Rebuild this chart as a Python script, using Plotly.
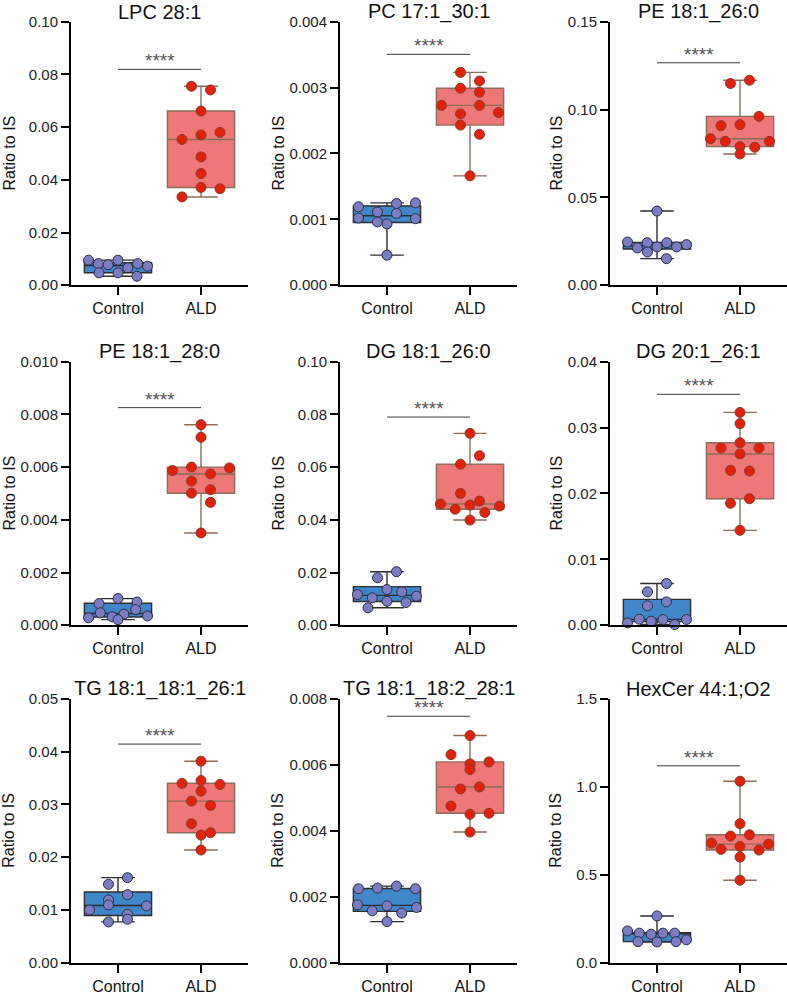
import numpy as np
import plotly.graph_objects as go

# ---------------- data ----------------
categories = ["Control", "ALD"]
titles = ["LPC 28:1", "PC 17:1_30:1", "PE 18:1_26:0",
          "PE 18:1_28:0", "DG 18:1_26:0", "DG 20:1_26:1",
          "TG 18:1_18:1_26:1", "TG 18:1_18:2_28:1", "HexCer 44:1;O2"]
y_title = "Ratio to IS"
sig_label = "****"

lpc_control = [0.0095, 0.0082, 0.0078, 0.0095, 0.0066, 0.0082, 0.0072, 0.0047, 0.0047, 0.0034]
lpc_ald = [0.0755, 0.0741, 0.0661, 0.0553, 0.0570, 0.0580, 0.0487, 0.0424, 0.0335, 0.0371, 0.0366]

pc_control = [0.00119, 0.00111, 0.00124, 0.00125, 0.00102, 0.00096, 0.00109, 0.00101, 0.00093, 0.000456]
pc_ald = [0.00323, 0.0031, 0.00299, 0.00293, 0.00273, 0.0026, 0.00273, 0.00262, 0.00243, 0.00229, 0.00166]

pe26_control = [0.0422, 0.0246, 0.0212, 0.0242, 0.0218, 0.0242, 0.0218, 0.0231, 0.0189, 0.0151]
pe26_ald = [0.1148, 0.1167, 0.0908, 0.0914, 0.0961, 0.0834, 0.0819, 0.0789, 0.0785, 0.0819, 0.0747]

pe28_control = [0.00082, 0.00101, 0.00088, 0.00028, 0.00047, 0.00032, 0.00042, 0.00059, 0.00035, 0.00021]
pe28_ald = [0.00761, 0.00713, 0.00587, 0.006, 0.00574, 0.00597, 0.00547, 0.00514, 0.00501, 0.00466, 0.0035]

dg18_control = [0.018, 0.0203, 0.01165, 0.0104, 0.01354, 0.01266, 0.011, 0.0066, 0.0091, 0.0086]
dg18_ald = [0.0728, 0.0611, 0.0643, 0.05, 0.0471, 0.046, 0.044, 0.0456, 0.0428, 0.0452, 0.0399]

dg20_control = [0.00506, 0.00633, 0.00294, 0.00354, 0.00035, 0.00091, 0.00061, 0.00086, 0.0001, 0.00086]
dg20_ald = [0.0323, 0.0306, 0.0269, 0.0277, 0.0269, 0.026, 0.0235, 0.0234, 0.0185, 0.0192, 0.0144]

tg26_control = [0.01484, 0.0161, 0.01187, 0.01288, 0.00997, 0.01092, 0.00915, 0.01073, 0.0077, 0.00821]
tg26_ald = [0.0382, 0.034, 0.03453, 0.03378, 0.03251, 0.03062, 0.0298, 0.02633, 0.02462, 0.02418, 0.02134]

tg28_control = [0.00224, 0.00226, 0.00232, 0.00224, 0.00175, 0.00157, 0.00172, 0.0015, 0.00167, 0.00124]
tg28_ald = [0.00689, 0.00631, 0.00603, 0.00609, 0.00586, 0.00527, 0.00533, 0.00475, 0.0045, 0.00453, 0.00396]

hex_control = [0.265, 0.18, 0.167, 0.161, 0.167, 0.167, 0.129, 0.119, 0.117, 0.119]
hex_ald = [1.032, 0.79, 0.68, 0.72, 0.727, 0.674, 0.644, 0.66, 0.64, 0.6, 0.468]

# axis scales (max, tick step, tick format)
y_max = [0.10, 0.004, 0.15, 0.010, 0.10, 0.04, 0.05, 0.008, 1.5]
y_step = [0.02, 0.001, 0.05, 0.002, 0.02, 0.01, 0.01, 0.002, 0.5]
y_fmt = [".2f", ".3f", ".2f", ".3f", ".2f", ".2f", ".2f", ".3f", ".1f"]

controls = [lpc_control, pc_control, pe26_control, pe28_control, dg18_control,
            dg20_control, tg26_control, tg28_control, hex_control]
alds = [lpc_ald, pc_ald, pe26_ald, pe28_ald, dg18_ald, dg20_ald, tg26_ald, tg28_ald, hex_ald]

# ---------------- layout constants ----------------
W, H = 787, 998
col_left = [71, 340, 610]
plot_w = 177
row_top = [21.7, 361.7, 699]
plot_h = 263.5
ytitle_off = [-62, -62, -54]
x_range = [-0.566, 1.566]
px_per_unit = plot_w / (x_range[1] - x_range[0])

FONT = "Liberation Sans, Arial, Helvetica, sans-serif"

ctrl_style = dict(box_fill="#3f87c9", box_line="#2e2e2e",
                  pt_fill="#7b7cc2", pt_line="#2c2c44")
ald_style = dict(box_fill="#ee7777", box_line="#8c6d5c",
                 pt_fill="#e2210b", pt_line="#8a3b2a")


def box_stats(vals):
    a = np.asarray(vals, dtype=float)
    q1, med, q3 = np.percentile(a, [25, 50, 75], method="weibull")
    return q1, med, q3, a.min(), a.max()


def swarm_offsets(vals, ymax, row_thresh=9.5, max_step=19.0, max_span=59.0):
    v = np.asarray(vals, dtype=float)
    order = sorted(range(len(v)), key=lambda i: -v[i])
    rows, cur, start = [], [], None
    for i in order:
        ypx = v[i] / ymax * plot_h
        if start is None or start - ypx > row_thresh:
            if cur:
                rows.append(cur)
            cur, start = [i], ypx
        else:
            cur.append(i)
    if cur:
        rows.append(cur)
    off = np.zeros(len(v))
    for r in rows:
        r = sorted(r)
        n = len(r)
        if n > 1:
            step = min(max_step, max_span / (n - 1))
            for k, i in enumerate(r):
                off[i] = (k - (n - 1) / 2) * step / px_per_unit
    return off


fig = go.Figure()
annotations = []
shapes = []
layout_axes = {}

for p in range(9):
    r, c = divmod(p, 3)
    ax = "" if p == 0 else str(p + 1)
    xref, yref = "x" + ax, "y" + ax
    x0 = col_left[c] / W
    x1 = min(1.0, (col_left[c] + plot_w) / W)
    xc = (col_left[c] + plot_w / 2) / W
    ytop = 1 - row_top[r] / H
    ybot = 1 - (row_top[r] + plot_h) / H

    groups = [controls[p], alds[p]]
    styles = [ctrl_style, ald_style]
    for gi, (vals, st) in enumerate(zip(groups, styles)):
        q1, med, q3, lo, hi = box_stats(vals)
        fig.add_trace(go.Box(
            x=[gi], q1=[q1], median=[med], q3=[q3], lowerfence=[lo], upperfence=[hi],
            width=0.81, whiskerwidth=0.5, fillcolor=st["box_fill"],
            line=dict(color=st["box_line"], width=1.4), boxpoints=False,
            hoverinfo="skip", showlegend=False, xaxis=xref, yaxis=yref))
    for gi, (vals, st) in enumerate(zip(groups, styles)):
        off = swarm_offsets(vals, y_max[p])
        fig.add_trace(go.Scatter(
            x=gi + off, y=vals, mode="markers", cliponaxis=False,
            marker=dict(size=10, color=st["pt_fill"], line=dict(color=st["pt_line"], width=1)),
            showlegend=False, hoverinfo="skip", xaxis=xref, yaxis=yref))

    # significance bar
    bar_y = 1.085 * max(alds[p])
    shapes.append(dict(type="line", xref=xref, yref=yref, x0=0, x1=1, y0=bar_y, y1=bar_y,
                       line=dict(color="#3a3a3a", width=1)))
    annotations.append(dict(x=0.5, y=bar_y, xref=xref, yref=yref, text=sig_label,
                            showarrow=False, xanchor="center", yanchor="bottom", yshift=-4,
                            font=dict(family=FONT, size=19, color="#555555")))
    # panel title
    annotations.append(dict(x=xc, y=ytop, xref="paper", yref="paper",
                            text=titles[p], showarrow=False, xanchor="center",
                            yanchor="bottom", yshift=-3,
                            font=dict(family=FONT, size=20, color="#111111")))
    # y axis title
    annotations.append(dict(x=x0, y=(ytop + ybot) / 2, xref="paper", yref="paper",
                            text=y_title, showarrow=False, textangle=-90,
                            xanchor="center", yanchor="middle", xshift=ytitle_off[c],
                            font=dict(family=FONT, size=16, color="#111111")))

    layout_axes["xaxis" + ax] = dict(
        domain=[x0, x1], range=x_range, anchor=yref, tickvals=[0, 1], ticktext=categories,
        showline=True, linecolor="black", linewidth=2, ticks="outside", ticklen=8,
        tickwidth=2, tickcolor="black", showgrid=False, zeroline=False, fixedrange=True,
        automargin=False, tickfont=dict(family=FONT, size=16, color="#111111"))
    layout_axes["yaxis" + ax] = dict(
        domain=[ybot, ytop], range=[0, y_max[p]], anchor=xref, dtick=y_step[p], tick0=0,
        tickformat=y_fmt[p], showline=True, linecolor="black", linewidth=2,
        ticks="outside", ticklen=8, tickwidth=2, tickcolor="black", showgrid=False,
        zeroline=False, fixedrange=True, automargin=False,
        tickfont=dict(family=FONT, size=15, color="#222222"))

fig.update_layout(
    width=W, height=H, margin=dict(l=0, r=0, t=0, b=0, autoexpand=False),
    paper_bgcolor="white", plot_bgcolor="white", boxmode="overlay",
    annotations=annotations, shapes=shapes, showlegend=False, **layout_axes)

fig.write_html("out.html", config={"displayModeBar": False, "staticPlot": True},
               post_script="document.body.style.margin='0px';document.body.style.overflow='hidden';")
